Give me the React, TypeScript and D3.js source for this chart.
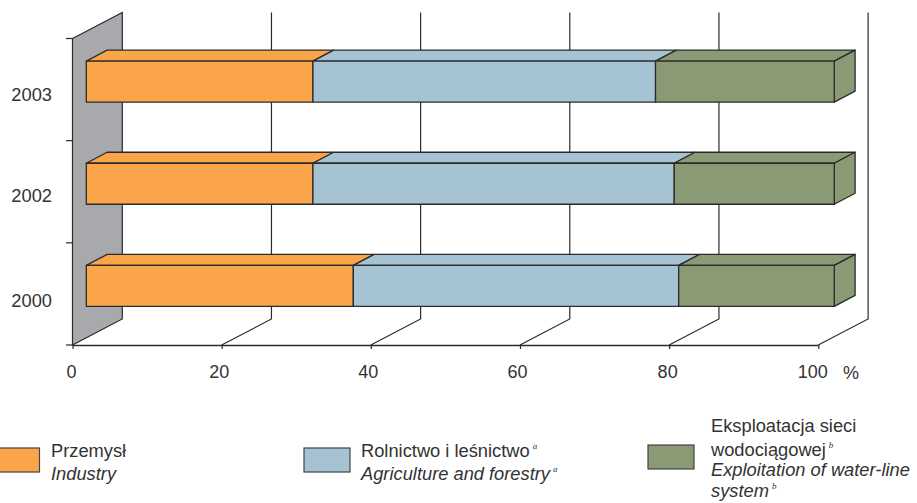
import React, { useEffect, useRef } from 'react';
import * as d3 from 'd3';

const years = ['2003', '2002', '2000'];
const industry = [30.3, 30.3, 35.7];
const agriculture = [45.8, 48.3, 43.5];
const waterLine = [23.9, 21.4, 20.8];
const xTicks = [0, 20, 40, 60, 80, 100];
const seriesKeys = ['industry', 'agriculture', 'waterLine'];
const seriesColors = ['#fba54a', '#a6c3d4', '#8a9a74'];

const WIDTH = 917;
const HEIGHT = 503;
const INK = '#2b2b2b';
const TEXT = '#333333';
const FONT = '"Liberation Sans", Arial, sans-serif';
const SUP_FONT = '"Liberation Serif", serif';

// floor depth of the 3D box, and how far into it the bars sit
const DEPTH_X = 49.8;
const DEPTH_Y = 26;
const BAR_DX = 20.8;
const BAR_DY = 11;
const BAR_H = 41;

const legendItems = [
  {
    x: -8, y: 448, textX: 51,
    lines: [
      { text: 'Przemysł', y: 457 },
      { text: 'Industry', y: 480, italic: true },
    ],
  },
  {
    x: 304, y: 448, textX: 361,
    lines: [
      { text: 'Rolnictwo i leśnictwo', y: 457, sup: 'a' },
      { text: 'Agriculture and forestry', y: 480, italic: true, sup: 'a' },
    ],
  },
  {
    x: 648, y: 445, textX: 711,
    lines: [
      { text: 'Eksploatacja sieci', y: 432 },
      { text: 'wodociągowej', y: 456, sup: 'b' },
      { text: 'Exploitation of water-line', y: 476, italic: true },
      { text: 'system', y: 497, italic: true, sup: 'b' },
    ],
  },
];

const App: React.FC = () => {
  const svgRef = useRef<SVGSVGElement>(null);

  useEffect(() => {
    if (!svgRef.current) return;
    const svg = d3.select(svgRef.current);
    svg.selectAll('*').remove();
    svg.style('font-family', FONT);

    const xScale = d3.scaleLinear().domain([0, 100]).range([72.5, 818.3]);
    const xBar = d3.scaleLinear().domain([0, 100]).range([86.3, 834.3]);
    const yScale = d3.scaleBand().domain(years).range([38.5, 345]);
    const top = 38.5;
    const bottom = 345;

    // side wall
    svg.append('path')
      .attr('d', `M${xScale(0)},${top}L${xScale(0) + DEPTH_X},${top - DEPTH_Y}V${bottom - DEPTH_Y}L${xScale(0)},${bottom}Z`)
      .attr('fill', '#a8a9ad')
      .attr('stroke', INK)
      .attr('stroke-width', 1.2);

    // back grid lines and floor lines
    const grid = svg.append('g').attr('fill', 'none').attr('stroke', INK).attr('stroke-width', 1.2);
    xTicks.slice(1).forEach(t => {
      grid.append('path')
        .attr('d', `M${xScale(t) + DEPTH_X},${top - DEPTH_Y}V${bottom - DEPTH_Y}L${xScale(t)},${bottom}`);
    });

    // x axis
    const xAxis = svg.append('g')
      .attr('transform', `translate(0,${bottom})`)
      .call(d3.axisBottom(xScale).tickValues(xTicks).tickSize(4).tickPadding(16).tickSizeOuter(0));
    xAxis.select('.domain').attr('stroke', INK).attr('stroke-width', 1.5);
    xAxis.selectAll('line').attr('stroke', INK).attr('stroke-width', 1.2);
    xAxis.selectAll('text')
      .attr('font-family', FONT)
      .attr('font-size', 18)
      .attr('fill', TEXT)
      .attr('dx', (_d, i) => [-1.5, -3, -3, -3, -2, -6][i]);

    svg.append('text')
      .attr('x', 843)
      .attr('y', 379)
      .attr('font-size', 18)
      .attr('fill', TEXT)
      .text('%');

    // y ticks, at the band edges
    svg.append('g')
      .attr('stroke', INK)
      .attr('stroke-width', 1.2)
      .selectAll('line')
      .data(d3.range(years.length + 1))
      .enter()
      .append('line')
      .attr('x1', 66)
      .attr('x2', xScale(0))
      .attr('y1', i => top + i * yScale.step())
      .attr('y2', i => top + i * yScale.step());

    svg.append('g')
      .selectAll('text')
      .data(years)
      .enter()
      .append('text')
      .attr('x', 52)
      .attr('y', (d, i) => (yScale(d) || 0) + yScale.bandwidth() / 2 + [11.5, 10, 13][i])
      .attr('text-anchor', 'end')
      .attr('font-size', 18.3)
      .attr('fill', TEXT)
      .text(d => d);

    // stacked bars
    const rows = years.map((year, i) => ({
      year,
      industry: industry[i],
      agriculture: agriculture[i],
      waterLine: waterLine[i],
    }));
    const layers = d3.stack<any>().keys(seriesKeys)(rows);
    const barY = (year: string) => (yScale(year) || 0) + yScale.bandwidth() / 2 - 8 - BAR_H / 2;

    const bars = svg.append('g').attr('stroke', INK).attr('stroke-width', 1.3).attr('stroke-linejoin', 'round');
    rows.forEach((row, r) => {
      const y0 = barY(row.year);
      layers.forEach((layer, s) => {
        const x0 = xBar(layer[r][0]);
        const x1 = xBar(Math.min(layer[r][1], 100));
        const fill = seriesColors[s];
        bars.append('path')
          .attr('d', `M${x0},${y0}L${x0 + BAR_DX},${y0 - BAR_DY}H${x1 + BAR_DX}L${x1},${y0}Z`)
          .attr('fill', fill);
        if (s === layers.length - 1) {
          bars.append('path')
            .attr('d', `M${x1},${y0}L${x1 + BAR_DX},${y0 - BAR_DY}V${y0 - BAR_DY + BAR_H}L${x1},${y0 + BAR_H}Z`)
            .attr('fill', fill);
        }
        bars.append('rect')
          .attr('x', x0)
          .attr('y', y0)
          .attr('width', x1 - x0)
          .attr('height', BAR_H)
          .attr('fill', fill);
      });
    });

    // legend
    legendItems.forEach((item, i) => {
      const g = svg.append('g');
      g.append('rect')
        .attr('x', item.x)
        .attr('y', item.y)
        .attr('width', 46 + (i === 0 ? 1.5 : 0))
        .attr('height', 24)
        .attr('fill', seriesColors[i])
        .attr('stroke', '#444444')
        .attr('stroke-width', 1.2);
      item.lines.forEach(line => {
        const t = g.append('text')
          .attr('x', item.textX)
          .attr('y', line.y)
          .attr('font-size', 18.3)
          .attr('fill', TEXT)
          .attr('font-style', line.italic ? 'italic' : 'normal')
          .text(line.text);
        if (line.sup) {
          t.append('tspan')
            .attr('dx', 3)
            .attr('dy', -8)
            .attr('font-family', SUP_FONT)
            .attr('font-style', 'italic')
            .attr('font-size', 9)
            .text(line.sup);
        }
      });
    });
  }, []);

  return (
    <svg
      ref={svgRef}
      width={WIDTH}
      height={HEIGHT}
      style={{ position: 'absolute', left: 0, top: 0, display: 'block', background: '#fff' }}
    />
  );
};

export default App;
